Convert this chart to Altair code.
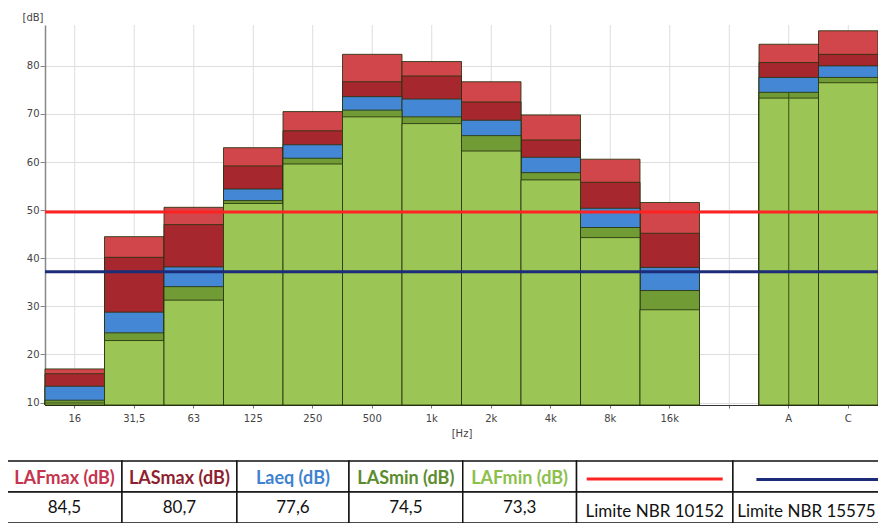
import altair as alt
import pandas as pd

# ---------------- data ----------------
freq = ["16", "31,5", "63", "125", "250", "500", "1k", "2k", "4k", "8k", "16k", "A", "C"]
x_domain = ["16", "31,5", "63", "125", "250", "500", "1k", "2k", "4k", "8k", "16k", " ", "A", "C"]

series = ["LAFmax", "LASmax", "Laeq", "LASmin", "LAFmin"]
laf_max = [17.0, 44.5, 50.6, 63.0, 70.5, 82.4, 80.9, 76.7, 69.8, 60.6, 51.6, 84.5, 87.3]
las_max = [16.0, 40.2, 47.0, 59.2, 66.5, 76.7, 77.9, 72.5, 64.6, 55.8, 45.2, 80.7, 82.4]
laeq = [13.4, 28.8, 38.2, 54.4, 63.6, 73.6, 73.1, 68.7, 61.0, 50.4, 38.1, 77.6, 80.0]
las_min = [10.5, 24.5, 34.1, 52.0, 60.8, 70.8, 69.4, 65.5, 57.8, 46.4, 33.3, 74.5, 77.6]
laf_min = [9.9, 22.9, 31.3, 51.4, 59.6, 69.4, 68.0, 62.3, 56.3, 44.3, 29.3, 73.3, 76.5]

limit_names = ["Limite NBR 10152", "Limite NBR 15575"]
limit_values = [49.6, 37.2]

table_headers = ["LAFmax (dB)", "LASmax (dB)", "Laeq (dB)", "LASmin (dB)", "LAFmin (dB)"]

# ---------------- styles ----------------
palette = ["#d0464a", "#a6282e", "#4387d5", "#719b35", "#9bc554", "#ff2222", "#1d2c78"]
header_palette = ["#c6344e", "#8e1f30", "#3f83d0", "#5d8c2e", "#8cc04a"]
Y_MIN, Y_MAX = 9.5, 88.5
W, H = 833, 380

series_vals = [laf_max, las_max, laeq, las_min, laf_min]
rows = []
for s, vals in zip(series, series_vals):
    for f, v in zip(freq, vals):
        rows.append({"freq": f, "series": s, "value": v})
bars_df = pd.DataFrame(rows)

lim_df = pd.DataFrame({"name": limit_names, "value": limit_values})
a_idx = freq.index("A")
a_line_df = pd.DataFrame({"freq": ["A"], "value": [las_min[a_idx]]})
grid_df = pd.DataFrame({"freq": x_domain})

x_scale = alt.Scale(domain=x_domain, paddingInner=0, paddingOuter=0)
y_scale = alt.Scale(domain=[Y_MIN, Y_MAX], nice=False, zero=False)
color_scale = alt.Scale(domain=series + limit_names, range=palette)

x_axis = alt.Axis(
    title="[Hz]", labelAngle=0, bandPosition=0.5, grid=False,
    domainColor="#333333", domainWidth=1.2, tickColor="#777777", tickSize=3,
    labelFont="DejaVu Sans", labelFontSize=10, labelColor="#444444", labelPadding=5,
    titleFont="DejaVu Sans", titleFontSize=10, titleFontWeight="normal",
    titleColor="#444444", titlePadding=5,
)
y_axis = alt.Axis(
    title="[dB]", values=[10, 20, 30, 40, 50, 60, 70, 80], grid=True, gridColor="#dddddd",
    domainColor="#888888", domainWidth=1.5, tickColor="#888888", tickSize=5,
    labelFont="DejaVu Sans", labelFontSize=10, labelColor="#444444", labelPadding=1,
    titleFont="DejaVu Sans", titleFontSize=10, titleFontWeight="normal",
    titleColor="#444444", titleAngle=0, titleAlign="right", titleBaseline="middle",
    titleX=-2, titleY=-8,
)

vgrid = alt.Chart(grid_df).mark_rule(color="#dddddd", strokeWidth=1).encode(
    x=alt.X("freq:N", scale=x_scale, sort=x_domain, axis=x_axis),
)

bars = alt.Chart(bars_df).mark_bar(
    stroke="#26330e", strokeWidth=1, strokeOpacity=0.85
).encode(
    x=alt.X("freq:N", scale=x_scale, sort=x_domain, axis=x_axis),
    y=alt.Y("value:Q", scale=y_scale, stack=None, axis=y_axis),
    y2=alt.datum(Y_MIN),
    color=alt.Color("series:N", scale=color_scale, legend=None),
)

a_line = alt.Chart(a_line_df).mark_rule(color="#3a4a18", strokeWidth=1).encode(
    x=alt.X("freq:N", scale=x_scale, sort=x_domain),
    y=alt.Y("value:Q", scale=y_scale),
    y2=alt.datum(Y_MIN),
)

limits = alt.Chart(lim_df).mark_rule(strokeWidth=3).encode(
    y=alt.Y("value:Q", scale=y_scale),
    color=alt.Color("name:N", scale=color_scale, legend=None),
)

main = alt.layer(vgrid, bars, a_line, limits)

# ---------------- table ----------------
col_w = [1.0, 1.0, 0.975, 0.99, 0.99, 1.36, 1.28]
edges = [0.0]
for w in col_w:
    edges.append(edges[-1] + w)

cells = []
for r in range(2):
    for i in range(7):
        cells.append({"x0": edges[i], "x1": edges[i + 1], "r0": r, "r1": r + 1})
cells_df = pd.DataFrame(cells)

a_vals = [v[a_idx] for v in series_vals]
head_df = pd.DataFrame({
    "xm": [(edges[i] + edges[i + 1]) / 2 for i in range(5)],
    "row": [0.5] * 5,
    "txt": table_headers,
    "series": series,
})
val_df = pd.DataFrame({
    "xm": [(edges[i] + edges[i + 1]) / 2 for i in range(5)],
    "row": [1.5] * 5,
    "txt": [f"{v:.1f}".replace(".", ",") for v in a_vals],
})
lim_txt_df = pd.DataFrame({
    "xm": [(edges[i] + edges[i + 1]) / 2 for i in (5, 6)],
    "row": [1.5, 1.5],
    "txt": limit_names,
})
sample_df = pd.DataFrame({
    "x0": [edges[5] + 0.065 * col_w[5], edges[6] + 0.16 * col_w[6]],
    "x1": [edges[6] - 0.065 * col_w[5], edges[7] - 0.0 * col_w[6]],
    "row": [0.58, 0.6],
    "name": limit_names,
})

tx = alt.Scale(domain=[0, edges[-1]], range=[7 - 45, 880 - 45], nice=False, zero=False)
ty = alt.Scale(domain=[0, 2], range=[461 - 25, 523 - 25], nice=False, zero=False)
header_scale = alt.Scale(domain=series, range=header_palette)

t_cells = alt.Chart(cells_df).mark_rect(fill="white", stroke="#111111", strokeWidth=1.5).encode(
    x=alt.X("x0:Q", scale=tx, axis=None), x2="x1:Q",
    y=alt.Y("r0:Q", scale=ty, axis=None), y2="r1:Q",
)
t_head = alt.Chart(head_df).mark_text(font="Lato", fontSize=18, fontWeight="bold", baseline="middle", dy=2).encode(
    x=alt.X("xm:Q", scale=tx, axis=None),
    y=alt.Y("row:Q", scale=ty, axis=None),
    text="txt:N",
    fill=alt.Fill("series:N", scale=header_scale, legend=None),
)
t_vals = alt.Chart(val_df).mark_text(font="Lato", fontSize=17, color="#111111", baseline="middle").encode(
    x=alt.X("xm:Q", scale=tx, axis=None),
    y=alt.Y("row:Q", scale=ty, axis=None),
    text="txt:N",
)
t_lims = alt.Chart(lim_txt_df).mark_text(font="Lato", fontSize=17, color="#111111", baseline="middle", dy=4).encode(
    x=alt.X("xm:Q", scale=tx, axis=None),
    y=alt.Y("row:Q", scale=ty, axis=None),
    text="txt:N",
)
t_samples = alt.Chart(sample_df).mark_rule(strokeWidth=3).encode(
    x=alt.X("x0:Q", scale=tx, axis=None), x2="x1:Q",
    y=alt.Y("row:Q", scale=ty, axis=None),
    color=alt.Color("name:N", scale=color_scale, legend=None),
)

table = alt.layer(t_cells, t_samples, t_head, t_vals, t_lims)

chart = alt.layer(main, table).resolve_scale(x="independent", y="independent").properties(
    width=W, height=H,
    padding={"left": 37, "top": 17, "right": 0, "bottom": 118},
    autosize=alt.AutoSizeParams(type="none"),
    background="white",
).configure_view(stroke=None)

chart.save("out.html", embed_options={"renderer": "svg", "actions": False})
